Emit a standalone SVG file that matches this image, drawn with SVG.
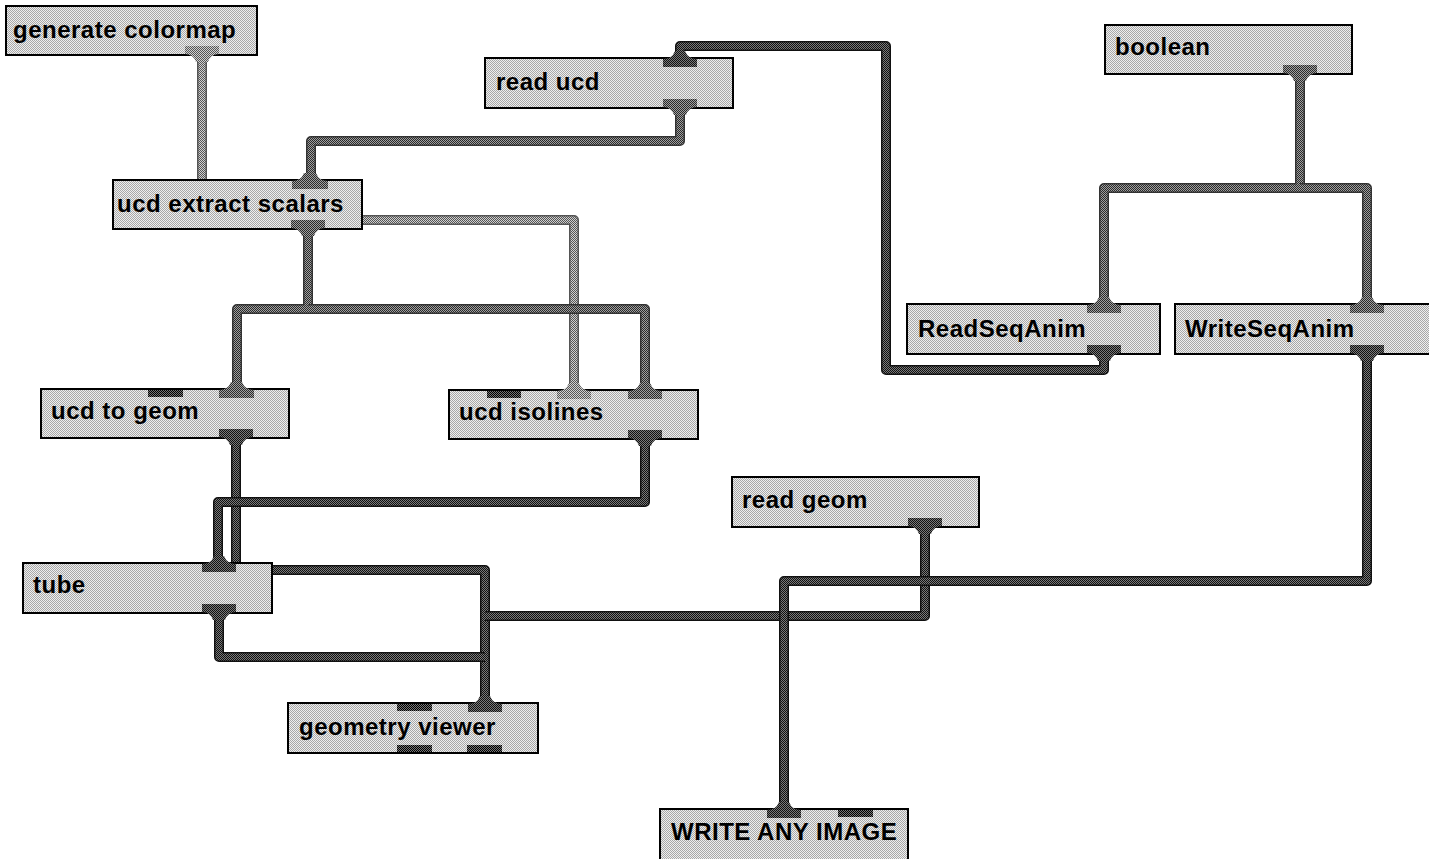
<svg xmlns="http://www.w3.org/2000/svg" width="1429" height="859" viewBox="0 0 1429 859">
<defs>
<pattern id="pn" width="2" height="2" patternUnits="userSpaceOnUse"><rect width="2" height="2" fill="#efefef"/><rect width="1" height="1" fill="#a8a8a8"/><rect x="1" y="1" width="1" height="1" fill="#a8a8a8"/></pattern>
<pattern id="pd" width="2" height="2" patternUnits="userSpaceOnUse"><rect width="2" height="2" fill="#7a7a7a"/><rect width="1" height="1" fill="#111"/><rect x="1" y="1" width="1" height="1" fill="#111"/></pattern>
<pattern id="pm" width="2" height="2" patternUnits="userSpaceOnUse"><rect width="2" height="2" fill="#a0a0a0"/><rect width="1" height="1" fill="#2a2a2a"/><rect x="1" y="1" width="1" height="1" fill="#2a2a2a"/></pattern>
<pattern id="pl" width="2" height="2" patternUnits="userSpaceOnUse"><rect width="2" height="2" fill="#d0d0d0"/><rect width="1" height="1" fill="#555"/><rect x="1" y="1" width="1" height="1" fill="#555"/></pattern>
<pattern id="pu" width="2" height="2" patternUnits="userSpaceOnUse"><rect width="2" height="2" fill="#777"/><rect width="1" height="1" fill="#000"/><rect x="1" y="1" width="1" height="1" fill="#000"/></pattern>
</defs>
<style>
.box{fill:url(#pn);stroke:#000;stroke-width:2}
.lbl{font-family:"Liberation Sans",Arial,Helvetica,sans-serif;font-size:24px;font-weight:bold;fill:#000;letter-spacing:0.5px}
.o{fill:none;stroke-width:10;stroke-linejoin:round;stroke-linecap:butt}
.i{fill:none;stroke-width:7;stroke-linejoin:round;stroke-linecap:butt}
.od{stroke:#111}.id{stroke:url(#pd)}
.om{stroke:#333}.im{stroke:url(#pm)}
.ol{stroke:#555}.il{stroke:url(#pl)}
.portd{fill:url(#pd)}.portm{fill:url(#pm)}.portl{fill:url(#pl)}
.pu{fill:url(#pu)}
</style>
<g id="connectors">
  <path class="o ol" d="M202,56 V181"/><path class="i il" d="M202,56 V181"/>
  <path class="o ol" d="M308,220 H574 V391"/><path class="i il" d="M308,220 H574 V391"/>
  <path class="o om" d="M680,108 V141 H311 V181"/><path class="i im" d="M680,108 V141 H311 V181"/>
  <path class="o om" d="M308,229 V309 H237 V390"/><path class="i im" d="M308,229 V309 H237 V390"/>
  <path class="o om" d="M308,309 H645 V391"/><path class="i im" d="M308,309 H645 V391"/>
  <path class="o om" d="M1300,74 V188 H1104 V305"/><path class="i im" d="M1300,74 V188 H1104 V305"/>
  <path class="o om" d="M1300,188 H1367 V305"/><path class="i im" d="M1300,188 H1367 V305"/>
  <path class="o od" d="M1104,355 V370 H886 V46 H680 V59"/><path class="i id" d="M1104,355 V370 H886 V46 H680 V59"/>
  <path class="o od" d="M236,438 V570 H485 V704"/><path class="i id" d="M236,438 V570 H485 V704"/>
  <path class="o od" d="M645,439 V502 H218 V564"/><path class="i id" d="M645,439 V502 H218 V564"/>
  <path class="o od" d="M219,613 V657 H485"/><path class="i id" d="M219,613 V657 H485"/>
  <path class="o od" d="M925,527 V616 H485"/><path class="i id" d="M925,527 V616 H485"/>
  <path class="o od" d="M1367,355 V581 H784 V810"/><path class="i id" d="M1367,355 V581 H784 V810"/>
</g>
<g id="n-generate-colormap">
  <rect class="box" x="6" y="6" width="251" height="49"/>
  <text class="lbl" x="13" y="38">generate colormap</text>
  <path class="portl" d="M185,46 H219 V54 Q211,54 208,62 H196 Q193,54 185,54 Z"/>
</g>
<g id="n-read-ucd">
  <rect class="box" x="485" y="58" width="248" height="50"/>
  <text class="lbl" x="496" y="90">read ucd</text>
  <path class="portd" d="M663,67 V59 Q672,59 675,51 H685 Q688,59 697,59 V67 Z"/>
  <path class="portm" d="M663,99 H697 V107 Q689,107 686,115 H674 Q671,107 663,107 Z"/>
</g>
<g id="n-boolean">
  <rect class="box" x="1105" y="25" width="247" height="49"/>
  <text class="lbl" x="1115" y="55">boolean</text>
  <path class="portm" d="M1283,65 H1317 V73 Q1309,73 1306,81 H1294 Q1291,73 1283,73 Z"/>
</g>
<g id="n-ucd-extract-scalars">
  <rect class="box" x="113" y="180" width="249" height="49"/>
  <text class="lbl" x="117" y="212">ucd extract scalars</text>
  <path class="portm" d="M292,189 V181 Q301,181 304,173 H316 Q319,181 328,181 V189 Z"/>
  <path class="portm" d="M291,220 H325 V228 Q317,228 314,236 H302 Q299,228 291,228 Z"/>
</g>
<g id="n-readseqanim">
  <rect class="box" x="907" y="304" width="253" height="50"/>
  <text class="lbl" x="918" y="337">ReadSeqAnim</text>
  <path class="portm" d="M1087,313 V305 Q1096,305 1099,297 H1109 Q1112,305 1121,305 V313 Z"/>
  <path class="portd" d="M1087,345 H1121 V353 Q1113,353 1110,361 H1098 Q1095,353 1087,353 Z"/>
</g>
<g id="n-writeseqanim">
  <rect class="box" x="1175" y="304" width="270" height="50"/>
  <text class="lbl" x="1185" y="337">WriteSeqAnim</text>
  <path class="portm" d="M1350,313 V305 Q1359,305 1362,297 H1372 Q1375,305 1384,305 V313 Z"/>
  <path class="portd" d="M1350,345 H1384 V353 Q1376,353 1373,361 H1361 Q1358,353 1350,353 Z"/>
</g>
<g id="n-ucd-to-geom">
  <rect class="box" x="41" y="389" width="248" height="49"/>
  <text class="lbl" x="51" y="419">ucd to geom</text>
  <rect class="pu" x="148" y="390" width="35" height="7"/>
  <path class="portm" d="M219,398 V390 Q228,390 231,382 H242 Q245,390 254,390 V398 Z"/>
  <path class="portd" d="M219,429 H253 V437 Q245,437 242,445 H230 Q227,437 219,437 Z"/>
</g>
<g id="n-ucd-isolines">
  <rect class="box" x="449" y="390" width="249" height="49"/>
  <text class="lbl" x="459" y="420">ucd isolines</text>
  <rect class="pu" x="487" y="391" width="34" height="7"/>
  <path class="portl" d="M557,399 V391 Q566,391 569,383 H579 Q582,391 591,391 V399 Z"/>
  <path class="portm" d="M628,399 V391 Q637,391 640,383 H650 Q653,391 662,391 V399 Z"/>
  <path class="portd" d="M628,430 H662 V438 Q654,438 651,446 H639 Q636,438 628,438 Z"/>
</g>
<g id="n-tube">
  <rect class="box" x="23" y="563" width="249" height="50"/>
  <text class="lbl" x="33" y="593">tube</text>
  <path class="portd" d="M202,572 V564 Q211,564 214,556 H224 Q227,564 236,564 V572 Z"/>
  <path class="portd" d="M202,604 H236 V612 Q228,612 225,620 H213 Q210,612 202,612 Z"/>
</g>
<g id="n-read-geom">
  <rect class="box" x="732" y="477" width="247" height="50"/>
  <text class="lbl" x="742" y="508">read geom</text>
  <path class="portd" d="M908,518 H942 V526 Q934,526 931,534 H919 Q916,526 908,526 Z"/>
</g>
<g id="n-geometry-viewer">
  <rect class="box" x="288" y="703" width="250" height="50"/>
  <text class="lbl" x="299" y="735">geometry viewer</text>
  <rect class="pu" x="397" y="704" width="35" height="7"/>
  <path class="portd" d="M468,712 V704 Q477,704 480,696 H490 Q493,704 502,704 V712 Z"/>
  <rect class="pu" x="397" y="745" width="35" height="7"/>
  <rect class="pu" x="467" y="745" width="35" height="7"/>
</g>
<g id="n-write-any-image">
  <rect class="box" x="660" y="809" width="248" height="56"/>
  <text class="lbl" x="671" y="840">WRITE ANY IMAGE</text>
  <path class="portd" d="M767,818 V810 Q776,810 779,802 H789 Q792,810 801,810 V818 Z"/>
  <rect class="pu" x="838" y="810" width="35" height="7"/>
</g>
</svg>
